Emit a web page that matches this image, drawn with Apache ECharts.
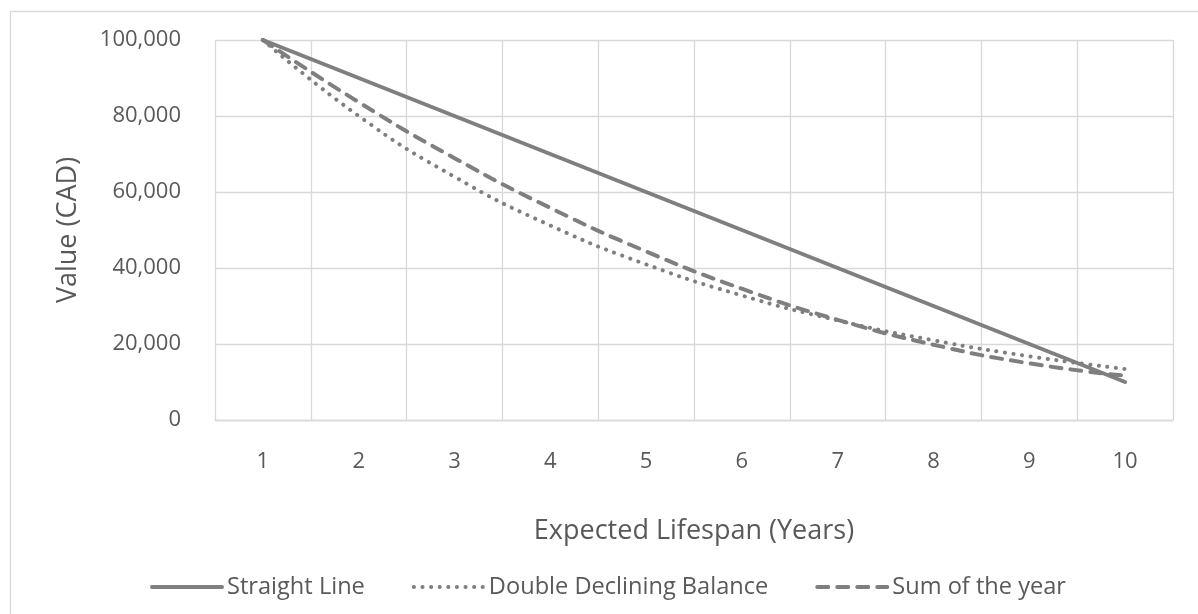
<!DOCTYPE html>
<html>
<head>
<meta charset="utf-8">
<script src="https://cdn.jsdelivr.net/npm/echarts@6/dist/echarts.min.js"></script>
<style>
  html, body { margin: 0; padding: 0; background: #ffffff; }
  #chart { width: 1198px; height: 614px; }
</style>
</head>
<body>
<div id="chart"></div>
<script>
// Asset value per year under three depreciation methods
const years = ['1', '2', '3', '4', '5', '6', '7', '8', '9', '10'];
const straightLine = [100000, 90000, 80000, 70000, 60000, 50000, 40000, 30000, 20000, 10000];
const doubleDeclining = [100000, 80000, 64000, 51200, 40960, 32768, 26214, 20972, 16777, 13422];
const sumOfYears = [100000, 83636, 68909, 55818, 44364, 34545, 26364, 19818, 14909, 11636];

const seriesNames = ['Straight Line', 'Double Declining Balance', 'Sum of the year'];

const FONT = '"Open Sans", "Noto Sans", sans-serif';
const TEXT = '#595959';
const GRID = '#d9d9d9';
const LINE = '#7f7f7f';

const chart = echarts.init(document.getElementById('chart'), null, { renderer: 'canvas' });

chart.setOption({
  backgroundColor: '#ffffff',
  animation: false,
  textStyle: { fontFamily: FONT, color: TEXT },
  graphic: [{
    type: 'rect',
    silent: true,
    shape: { x: 10.5, y: 11.5, width: 1200, height: 700 },
    style: { fill: 'none', stroke: GRID, lineWidth: 1.3 }
  }],
  grid: { left: 215, right: 25, top: 40, bottom: 194, containLabel: false },
  legend: {
    left: 150,
    top: 575,
    padding: 0,
    itemWidth: 70,
    itemHeight: 14,
    itemGap: 47,
    itemStyle: { opacity: 0 },
    lineStyle: { width: 4 },
    textStyle: { fontFamily: FONT, fontSize: 23.6, color: TEXT },
    data: seriesNames
  },
  xAxis: {
    type: 'category',
    data: years,
    boundaryGap: true,
    name: 'Expected Lifespan (Years)',
    nameLocation: 'middle',
    nameGap: 98,
    nameTextStyle: { fontFamily: FONT, fontSize: 27, color: TEXT },
    axisLine: { show: true, lineStyle: { color: GRID, width: 1.3 } },
    axisTick: { show: false },
    axisLabel: { interval: 0, margin: 31, fontFamily: FONT, fontSize: 22, color: TEXT },
    splitLine: { show: true, interval: 0, lineStyle: { color: GRID, width: 1.3 } }
  },
  yAxis: {
    type: 'value',
    min: 0,
    max: 100000,
    interval: 20000,
    name: 'Value (CAD)',
    nameLocation: 'middle',
    nameRotate: 90,
    nameGap: 133,
    nameTextStyle: { fontFamily: FONT, fontSize: 27, color: TEXT },
    axisLine: { show: false },
    axisTick: { show: false },
    axisLabel: {
      margin: 34,
      fontFamily: FONT,
      fontSize: 22,
      color: TEXT,
      formatter: v => v.toLocaleString('en-US')
    },
    splitLine: { show: true, lineStyle: { color: GRID, width: 1.3 } }
  },
  series: [
    {
      name: seriesNames[0],
      type: 'line',
      data: straightLine,
      smooth: true,
      symbol: 'none',
      color: LINE,
      lineStyle: { color: LINE, width: 4, type: 'solid', cap: 'round' },
      z: 3
    },
    {
      name: seriesNames[1],
      type: 'line',
      data: doubleDeclining,
      smooth: true,
      symbol: 'none',
      color: LINE,
      lineStyle: { color: LINE, width: 4, type: [0.1, 8.5], cap: 'round' },
      z: 2
    },
    {
      name: seriesNames[2],
      type: 'line',
      data: sumOfYears,
      smooth: true,
      symbol: 'none',
      color: LINE,
      lineStyle: { color: LINE, width: 4, type: [11, 9], cap: 'round' },
      z: 2
    }
  ]
});
</script>
</body>
</html>
